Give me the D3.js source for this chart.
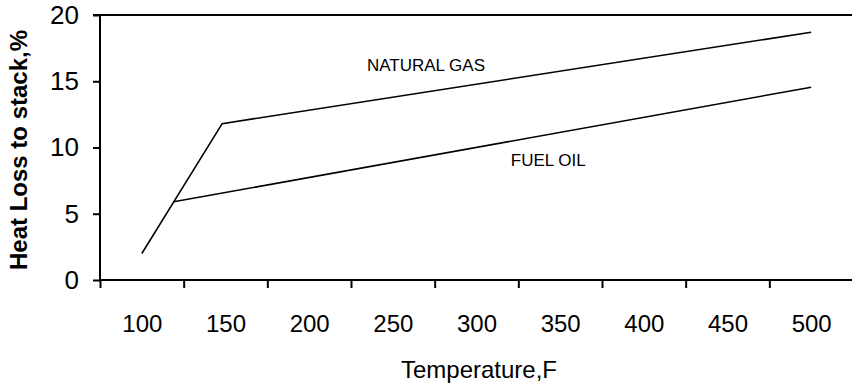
<!DOCTYPE html>
<html>
<head>
<meta charset="utf-8">
<script src="https://cdn.jsdelivr.net/npm/d3@7"></script>
<style>
  body { margin: 0; background: #fff; }
  svg { display: block; font-family: "Liberation Sans", Arial, sans-serif; }
  .axis path { display: none; }
  .axis line { stroke: #000; stroke-width: 2; }
  .axis text { fill: #000; }
</style>
</head>
<body>
<div id="chart-area"></div>
<script>
// data
const gasTemps = [100, 148, 500];
const gasLoss = [2, 11.8, 18.7];
const oilTemps = [119, 500];
const oilLoss = [5.9, 14.55];

const tempLabels = [100, 150, 200, 250, 300, 350, 400, 450, 500];
const tempTicks = [75, 125, 175, 225, 275, 325, 375, 425, 475, 525];
const lossTicks = [0, 5, 10, 15, 20];

const seriesNames = ["NATURAL GAS", "FUEL OIL"];
const nameTemps = [234.5, 320.5];
const nameLoss = [15.8, 8.6];

const chartSize = { width: 852, height: 387 };

const x = d3.scaleLinear().domain([75, 525]).range([100, 853]);
const y = d3.scaleLinear().domain([0, 20]).range([280, 15]);

const svg = d3.select("#chart-area")
    .append("svg")
    .attr("width", chartSize.width)
    .attr("height", chartSize.height);

// top border of the plot
svg.append("line")
    .attr("x1", x(75) - 7).attr("x2", x(525))
    .attr("y1", y(20)).attr("y2", y(20))
    .attr("stroke", "#000").attr("stroke-width", 2);

// axis lines
svg.append("line")
    .attr("x1", x(75)).attr("x2", x(75))
    .attr("y1", y(20)).attr("y2", y(0))
    .attr("stroke", "#000").attr("stroke-width", 2);
svg.append("line")
    .attr("x1", x(75)).attr("x2", x(525))
    .attr("y1", y(0)).attr("y2", y(0))
    .attr("stroke", "#000").attr("stroke-width", 2);

// x tick marks between the labels
svg.append("g")
    .attr("class", "axis")
    .attr("transform", `translate(0, ${y(0)})`)
    .call(d3.axisBottom(x).tickValues(tempTicks).tickSize(8).tickFormat(""));

// x labels
svg.append("g")
    .attr("class", "axis")
    .attr("transform", `translate(0, ${y(0)})`)
    .call(d3.axisBottom(x).tickValues(tempLabels).tickSize(0).tickPadding(35))
    .call(g => g.selectAll("text").style("font-size", "24px").style("font-family", "Liberation Sans, Arial, sans-serif"));

// y axis
svg.append("g")
    .attr("class", "axis")
    .attr("transform", `translate(${x(75)}, 0)`)
    .call(d3.axisLeft(y).tickValues(lossTicks).tickSize(7).tickPadding(14))
    .call(g => g.selectAll("text").style("font-size", "26px").style("font-family", "Liberation Sans, Arial, sans-serif"));

const line = d3.line()
    .x(d => x(d[0]))
    .y(d => y(d[1]));

svg.append("path")
    .attr("d", line(gasTemps.map((t, i) => [t, gasLoss[i]])))
    .attr("fill", "none").attr("stroke", "#000").attr("stroke-width", 1.6);

svg.append("path")
    .attr("d", line(oilTemps.map((t, i) => [t, oilLoss[i]])))
    .attr("fill", "none").attr("stroke", "#000").attr("stroke-width", 1.6);

// series names
seriesNames.forEach((name, i) => {
    svg.append("text")
        .attr("x", x(nameTemps[i]))
        .attr("y", y(nameLoss[i]))
        .attr("font-size", 17)
        .text(name);
});

// axis titles
svg.append("text")
    .attr("x", 479)
    .attr("y", 378)
    .attr("text-anchor", "middle")
    .attr("font-size", 24)
    .text("Temperature,F");

svg.append("text")
    .attr("transform", "translate(27, 150) rotate(-90)")
    .attr("text-anchor", "middle")
    .attr("font-size", 24)
    .attr("font-weight", "bold")
    .text("Heat Loss to stack,%");
</script>
</body>
</html>
